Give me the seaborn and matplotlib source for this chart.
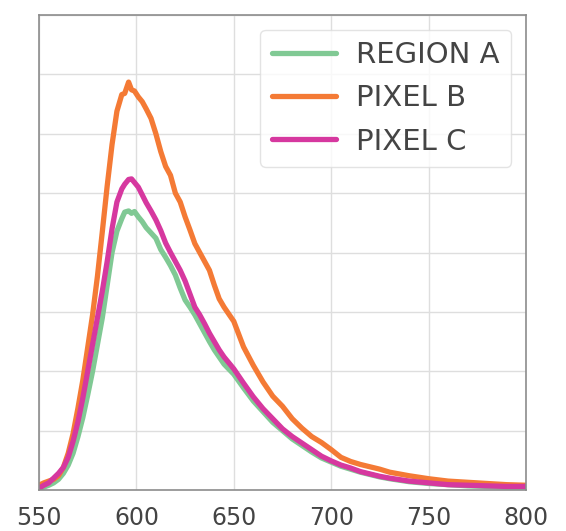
import numpy as np
import pandas as pd
import matplotlib
matplotlib.use("Agg")
import matplotlib.pyplot as plt
import seaborn as sns

wavelength = [550, 552.5, 555, 557.5, 560, 562.5, 565, 567.5, 570, 572.5, 575, 577.5,
              580, 582.5, 585, 587.5, 590, 592.5, 594, 596, 597.5, 599, 601, 603, 605,
              607.5, 610, 612.5, 615, 617.5, 620, 622.5, 625, 627.5, 630, 632.5, 635,
              637.5, 640, 642.5, 645, 650, 655, 660, 665, 670, 675, 680, 685, 690, 695,
              700, 705, 710, 715, 720, 725, 730, 740, 750, 760, 770, 780, 790, 800]

region_a = [0.03, 0.05, 0.08, 0.12, 0.18, 0.28, 0.42, 0.62, 0.90, 1.22, 1.60, 2.00,
            2.45, 2.90, 3.45, 4.00, 4.36, 4.57, 4.68, 4.70, 4.66, 4.69, 4.60, 4.52, 4.42,
            4.33, 4.24, 4.05, 3.92, 3.78, 3.62, 3.40, 3.20, 3.08, 2.95, 2.80, 2.65,
            2.50, 2.36, 2.24, 2.12, 1.95, 1.72, 1.50, 1.32, 1.14, 1.00, 0.86, 0.75, 0.64, 0.54,
            0.47, 0.40, 0.35, 0.30, 0.26, 0.22, 0.19, 0.14, 0.11, 0.09, 0.07, 0.06, 0.05, 0.05]

pixel_b = [0.08, 0.12, 0.15, 0.18, 0.24, 0.38, 0.62, 0.95, 1.38, 1.85, 2.40, 2.95,
           3.60, 4.35, 5.12, 5.82, 6.38, 6.66, 6.68, 6.87, 6.74, 6.72, 6.62, 6.54, 6.42,
           6.26, 6.00, 5.70, 5.45, 5.30, 5.00, 4.85, 4.60, 4.38, 4.15, 4.00, 3.85,
           3.70, 3.45, 3.22, 3.08, 2.84, 2.41, 2.10, 1.82, 1.58, 1.41, 1.20, 1.04, 0.90, 0.80,
           0.68, 0.55, 0.48, 0.43, 0.39, 0.35, 0.30, 0.24, 0.19, 0.15, 0.13, 0.11, 0.09, 0.08]

pixel_c = [0.03, 0.08, 0.12, 0.20, 0.28, 0.38, 0.55, 0.82, 1.15, 1.55, 2.00, 2.45,
           2.90, 3.35, 3.85, 4.40, 4.85, 5.07, 5.15, 5.23, 5.24, 5.18, 5.10, 4.97, 4.84,
           4.70, 4.55, 4.37, 4.16, 4.00, 3.85, 3.70, 3.52, 3.30, 3.08, 2.95, 2.80,
           2.64, 2.50, 2.36, 2.24, 2.04, 1.80, 1.57, 1.37, 1.20, 1.03, 0.90, 0.79, 0.68, 0.57,
           0.49, 0.42, 0.37, 0.31, 0.27, 0.23, 0.20, 0.15, 0.12, 0.09, 0.08, 0.07, 0.06, 0.06]

series_names = ["REGION A", "PIXEL B", "PIXEL C"]
series_colors = ["#80c994", "#f47a35", "#d6389f"]
x_ticks = [550, 600, 650, 700, 750, 800]

frames = []
for name, vals in zip(series_names, [region_a, pixel_b, pixel_c]):
    frames.append(pd.DataFrame({"wavelength": wavelength, "value": vals, "series": name}))
df = pd.concat(frames, ignore_index=True)

sns.set_theme(style="whitegrid")
plt.rcParams['font.family'] = ['DejaVu Sans']

fig = plt.figure(figsize=(5.66, 5.31), dpi=100)
ax = fig.add_axes([39/566, 41/531, 487/566, 475/531])

sns.lineplot(data=df, x="wavelength", y="value", hue="series",
             hue_order=series_names, palette=series_colors, linewidth=3.8, ax=ax)

ax.set_xlim(550, 800)
ax.set_ylim(0, 8)
ax.set_xticks(x_ticks)
ax.set_xticklabels([str(t) for t in x_ticks])
ax.set_yticks(np.arange(0, 9, 1))
ax.set_yticklabels([])
ax.set_xlabel("")
ax.set_ylabel("")
ax.tick_params(axis='x', length=0, pad=11.5, labelsize=17, labelcolor="#444444")
ax.tick_params(axis='y', length=0)
ax.grid(True, color="#dedede", linewidth=1.0)
for s in ax.spines.values():
    s.set_visible(True)
    s.set_color("#8c8c8c")
    s.set_linewidth(1.2)

leg = ax.legend(loc="upper right", fontsize=21, handlelength=2.2, handletextpad=0.7,
                labelspacing=0.52, borderpad=0.4, frameon=True, fancybox=True)
leg.get_frame().set_edgecolor("#dddddd")
leg.get_frame().set_facecolor("white")
leg.get_frame().set_alpha(0.8)
for t in leg.get_texts():
    t.set_color("#444444")
for l in leg.get_lines():
    l.set_linewidth(3.8)

fig.savefig("out.png", dpi=100)
